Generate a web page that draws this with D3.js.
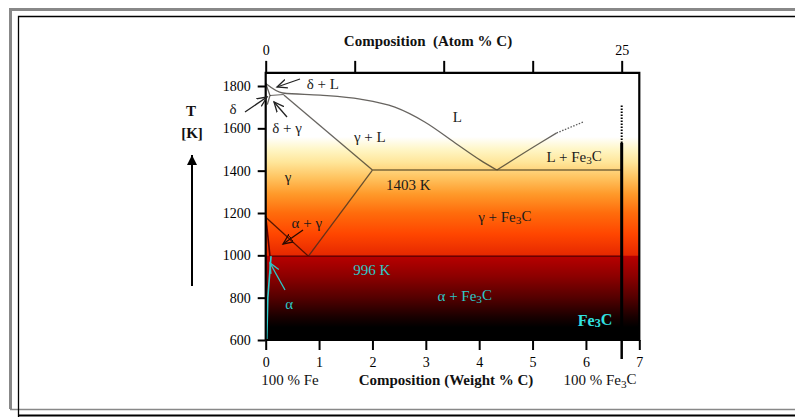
<!DOCTYPE html>
<html><head><meta charset="utf-8">
<script src="https://cdn.jsdelivr.net/npm/d3@7/dist/d3.min.js"></script>
<style>
body{margin:0;background:#fff}
svg{display:block}
text{font-family:"Liberation Serif","Times New Roman",serif;white-space:pre}
</style>
</head><body>
<svg id="c" width="795" height="417"></svg>
<script>
// ---------- data ----------
const weightTicks = [0, 1, 2, 3, 4, 5, 6, 7];
const tempTicks = [600, 800, 1000, 1200, 1400, 1600, 1800];
const atomTicks = [0, 6.25, 12.5, 18.75, 25];
const atomLabels = ["0", "", "", "", "25"];
const fe3cWeight = 6.67;
const eutecticT = 1403;
const eutectoidT = 996;
const liquidus = [[0,1812],[0.32,1767],[1.02,1757],[1.77,1738],[2.42,1700],[2.98,1630],[3.55,1531],[4.02,1450],[4.33,1403]];
const liquidusFe3C = [[4.33,1403],[5.14,1531],[5.45,1578]];
const liquidusFe3CDotted = [[5.45,1578],[5.95,1630]];
const solidus = [[0.34,1757],[2.0,1403]];
const acm = [[2.0,1403],[0.8,996]];
const a3 = [[0,1180],[0.8,996]];
const alphaGamma = [[0,1186],[0.08,996]];
const alphaSolvus = [[0.1,996],[0.04,800],[0.02,600]];
const deltaLine1 = [[0,1812],[0.08,1755],[0.03,1712]];
const deltaLine2 = [[0.08,1755],[0.34,1760]];
const fe3cSolid = [[6.67,600],[6.67,1531]];
const fe3cDotted = [[6.67,1531],[6.67,1712]];
const eutecticLine = [[2.0,eutecticT],[fe3cWeight,eutecticT]];
const eutectoidLine = [[0.08,eutectoidT],[fe3cWeight,eutectoidT]];
const regionLabels = ["δ + L","δ","δ + γ","L","γ + L","L + Fe3C","γ","1403 K","γ + Fe3C","α + γ","996 K","α","α + Fe3C","Fe3C"];
const labelWt = [1.07,-0.61,0.40,3.59,1.95,5.78,0.42,2.67,4.48,0.77,1.99,0.44,3.73,6.17];
const labelT  = [1809,1691,1601,1655,1559,1465,1371,1333,1182,1154,932,770,808,694];

// ---------- scales ----------
const x = d3.scaleLinear().domain([0, 7]).range([265.7, 639.3]);
const y = d3.scaleLinear().domain([600, 1800]).range([340, 86]);
const xa = d3.scaleLinear().domain([0, 25]).range([x(0), x(fe3cWeight)]);
const topT = 1862;

const svg = d3.select("#c");
const defs = svg.append("defs");

// gradient (by temperature)
const gradStops = [
  [1862,"#ffffff"],[1560,"#ffffff"],[1500,"#fff6c6"],[1440,"#ffe69a"],[1370,"#ffc562"],
  [1290,"#ff9a2a"],[1200,"#ff6c0c"],[1100,"#ff4600"],[1000,"#e62800"],
  [997,"#b80000"],[900,"#8c0000"],[800,"#540000"],[710,"#1a0000"],[660,"#000000"],[600,"#000000"]
];
const g0 = defs.append("linearGradient").attr("id","bg").attr("gradientUnits","userSpaceOnUse")
  .attr("x1",0).attr("x2",0).attr("y1",y(topT)).attr("y2",y(600));
gradStops.forEach(s => g0.append("stop")
  .attr("offset",(y(s[0])-y(topT))/(y(600)-y(topT))).attr("stop-color",s[1]));

function marker(id, color, closed){
  defs.append("marker").attr("id",id).attr("markerUnits","userSpaceOnUse")
    .attr("markerWidth",12).attr("markerHeight",12).attr("refX",10).attr("refY",5)
    .attr("orient","auto").append("path")
    .attr("d", closed ? "M0,0.5 L10,5 L0,9.5 Z" : "M0,0.5 L10,5 L0,9.5")
    .attr("fill","none").attr("stroke",color).attr("stroke-width",1.3);
}
marker("ab","#222",false); marker("ac","#2cc8c8",false); marker("at","#2a0a00",true);
defs.append("marker").attr("id","up").attr("markerUnits","userSpaceOnUse")
  .attr("markerWidth",12).attr("markerHeight",12).attr("refX",10).attr("refY",5)
  .attr("orient","auto").append("path").attr("d","M0,0 L10,5 L0,10 Z").attr("fill","#000");

// outer frames
svg.append("path").attr("d","M10.5,409 V9.5 H795").attr("fill","none").attr("stroke","#888").attr("stroke-width",3);
svg.append("line").attr("x1",10).attr("x2",795).attr("y1",409.5).attr("y2",409.5).attr("stroke","#888").attr("stroke-width",1.3);
svg.append("path").attr("d","M18.5,417 V16.5 H795").attr("fill","none").attr("stroke","#000").attr("stroke-width",1.3);
svg.append("line").attr("x1",18).attr("x2",795).attr("y1",415.5).attr("y2",415.5).attr("stroke","#000").attr("stroke-width",2);

// background
svg.append("rect").attr("x",x(0)).attr("y",y(topT)).attr("width",x(7)-x(0)).attr("height",y(600)-y(topT))
  .attr("fill","url(#bg)");

const line = d3.line().x(d=>x(d[0])).y(d=>y(d[1]));
const curve = d3.line().x(d=>x(d[0])).y(d=>y(d[1])).curve(d3.curveMonotoneX);
const phaseStroke = "rgba(45,40,35,0.72)";
function draw(data, gen, stroke, w, dash){
  const p = svg.append("path").attr("d",gen(data)).attr("fill","none").attr("stroke",stroke).attr("stroke-width",w);
  if(dash) p.attr("stroke-dasharray",dash);
  return p;
}
draw(liquidus, curve, phaseStroke, 1.3);
draw(liquidusFe3C, curve, phaseStroke, 1.3);
draw(liquidusFe3CDotted, line, "rgba(60,60,60,0.85)", 1.3, "1.5,1.5");
draw(solidus, line, phaseStroke, 1.3);
draw(acm, line, phaseStroke, 1.3);
draw(a3, line, "rgba(60,10,0,0.85)", 1.3);
draw(alphaGamma, line, "#5a0000", 1.6);
draw(deltaLine1, line, phaseStroke, 1.3);
draw(deltaLine2, line, phaseStroke, 1.1);
draw(eutecticLine, line, "rgba(90,75,40,0.8)", 1.6);
draw(eutectoidLine, line, "#6a0000", 1.6);
draw(alphaSolvus, line, "#2cd0d0", 1.6);
draw(fe3cSolid, line, "#000", 3);
draw(fe3cDotted, line, "#000", 2, "1.5,1.5");

// plot frame
svg.append("path").attr("d",`M${x(0)},${y(600)} V${y(topT)} H${x(7)} V${y(600)} H${x(0)}`)
  .attr("fill","none").attr("stroke","#000").attr("stroke-width",2.2);

// axes
const fmtAxis = g => { g.select(".domain").remove(); g.selectAll("line").attr("stroke","#000").attr("stroke-width",2);
  g.selectAll("text").attr("fill","#000").style("font-family","Liberation Serif, serif").style("font-size","14px"); };
svg.append("g").attr("transform",`translate(${x(0)},0)`)
  .call(d3.axisLeft(y).tickValues(tempTicks).tickSize(8).tickPadding(7).tickFormat(d3.format("d"))).call(fmtAxis);
svg.append("g").attr("transform",`translate(0,${y(600)})`)
  .call(d3.axisBottom(x).tickValues(weightTicks).tickSize(10).tickPadding(7).tickFormat(d3.format("d"))).call(fmtAxis);
svg.append("line").attr("x1",x(fe3cWeight)).attr("x2",x(fe3cWeight)).attr("y1",y(600)).attr("y2",y(600)+19)
  .attr("stroke","#000").attr("stroke-width",2.5);
svg.append("g").attr("transform",`translate(0,${y(topT)})`)
  .call(d3.axisTop(xa).tickValues(atomTicks).tickSize(12).tickPadding(6).tickFormat((d,i)=>atomLabels[i])).call(fmtAxis);

// titles
function txt(t, px, py, opt={}){
  const el = svg.append("text").attr("x",px).attr("y",py).attr("text-anchor",opt.anchor||"middle")
    .attr("fill",opt.color||"#111").style("font-size",(opt.size||15)+"px")
    .style("font-weight",opt.bold?"bold":"normal");
  if(opt.central) el.attr("dominant-baseline","central");
  const parts = t.split(/(Fe3C)/);
  parts.forEach(p=>{
    if(p==="Fe3C"){
      el.append("tspan").text("Fe");
      el.append("tspan").attr("dy","0.25em").style("font-size",((opt.size||15)*0.75)+"px").text("3");
      el.append("tspan").attr("dy","-0.25em").text("C");
    } else if(p) el.append("tspan").text(p);
  });
  return el;
}
txt("Composition  (Atom % C)", 428, 46, {bold:true});
txt("Composition (Weight % C)", 446, 385, {bold:true});
txt("100 % Fe", 290, 385, {});
txt("100 % Fe3C", 600, 385, {});
txt("T", 191, 116, {bold:true});
txt("[K]", 192, 138, {bold:true});
svg.append("line").attr("x1",192).attr("x2",192).attr("y1",286).attr("y2",155)
  .attr("stroke","#000").attr("stroke-width",2).attr("marker-end","url(#up)");

// region labels
const cyanSet = new Set(["996 K","α","α + Fe3C","Fe3C"]);
regionLabels.forEach((t,i)=>{
  const isFe = t==="Fe3C";
  txt(t, x(labelWt[i]), y(labelT[i]), {central:true, color: cyanSet.has(t)?(isFe?"#30e0e0":"#2cc8c8"):"#1a1a1a",
    bold:isFe, size: isFe?16:15});
});

// arrows (from label toward region)
const arrows = [
  [[300,79],[277,87],"ab"],[[245,112],[267,97],"ab"],[[287,117],[274,102],"ab"],
  [[303,230],[283,244],"at"],[[285,290],[270,263],"ac"]
];
arrows.forEach(a=>{
  svg.append("line").attr("x1",a[0][0]).attr("y1",a[0][1]).attr("x2",a[1][0]).attr("y2",a[1][1])
    .attr("stroke", a[2]==="ac"?"#2cc8c8":(a[2]==="at"?"#2a0a00":"#222")).attr("stroke-width",1.3)
    .attr("marker-end",`url(#${a[2]})`);
});
</script>
</body></html>
